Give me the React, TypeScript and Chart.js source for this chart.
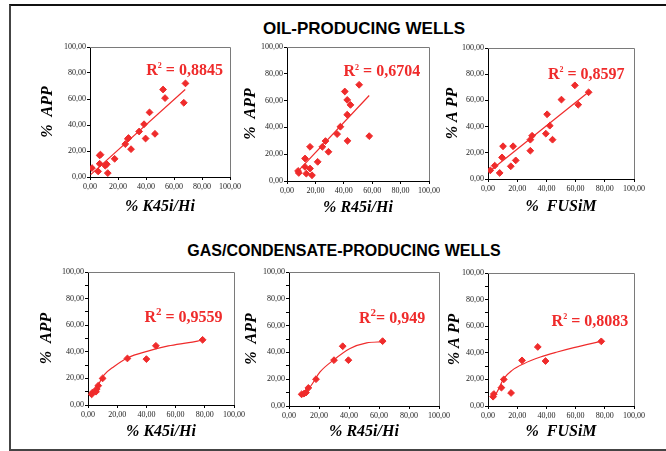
import React, { useEffect, useRef } from 'react';
import { Chart, registerables } from 'chart.js';

Chart.register(...registerables);

// ---------- DATA ----------
const xTickValues = [0, 20, 40, 60, 80, 100];

// Oil-producing wells
const oilK45iX = [1.4, 5.8, 6.9, 6.9, 7.5, 10.9, 12, 12.7, 17.6, 25.2, 27, 27.5, 29.3, 35.1, 38.6, 39.7, 42.5, 46.4, 52.2, 53.6, 67, 68.2];
const oilK45iY = [6.9, 4.3, 10.2, 16.6, 17.2, 8.7, 9.8, 3, 14, 25.3, 29.3, 30, 21.4, 35, 40.6, 29.6, 49.7, 33.2, 67.3, 60.7, 57.1, 72];
const oilK45iTrendX = [0.5, 68];
const oilK45iTrendY = [1.8, 67.3];

const oilR45iX = [7.8, 8.3, 12.7, 12.7, 13.6, 16.2, 16.2, 17.6, 21.6, 24.9, 27.1, 29.2, 35.3, 37.6, 40.7, 42.4, 42.4, 42.6, 44.7, 50.8, 57.9];
const oilR45iY = [7.5, 6, 16.8, 10.5, 5.5, 25.5, 9.3, 4.3, 14.3, 25.5, 29.8, 21.8, 35, 40.5, 66.8, 60.5, 49.5, 30, 56.8, 71.8, 33.5];
const oilR45iTrendX = [6.6, 57.9];
const oilR45iTrendY = [6, 63.8];

const oilFusimX = [1.6, 4.6, 8, 9.6, 10.3, 15.6, 17.2, 19, 29, 29, 30.2, 39.6, 40.5, 42.3, 44.2, 50.3, 59.5, 61.8, 68.9];
const oilFusimY = [6.6, 10.2, 4.6, 16.5, 25, 9.7, 25, 14.2, 21.6, 30, 33, 34.6, 49.4, 40.7, 30, 60.6, 71.5, 56.7, 66.2];
const oilFusimTrendX = [1.1, 68.9];
const oilFusimTrendY = [5.9, 66.4];

// Gas/condensate-producing wells
const gasK45iX = [2.5, 3.2, 5.5, 6, 7, 10, 27, 40, 46.5, 78.5];
const gasK45iY = [8, 9.5, 10, 12, 14.5, 20, 35, 34.5, 44.5, 49];
const gasK45iTrendX = [2.3, 6.3, 10.9, 17.9, 27, 41, 55, 69, 78];
const gasK45iTrendY = [6, 13.6, 22.4, 29, 35.4, 40.5, 44.4, 46.9, 48.7];

const gasR45iX = [8.4, 10, 11.3, 12.9, 18, 30, 35.8, 39.6, 62.4];
const gasR45iY = [8.7, 9.2, 10, 13.5, 20, 34.2, 44.6, 34.2, 48.4];
const gasR45iTrendX = [7.3, 14, 20.7, 29.6, 40.7, 51.8, 62.4];
const gasR45iTrendY = [8.5, 14.2, 25.4, 34.2, 42.9, 47.1, 47.9];

const gasFusimX = [3.5, 4, 9.2, 10.8, 15.8, 23.3, 34.1, 39.4, 77.6];
const gasFusimY = [7, 9, 13.8, 20, 9.8, 34.3, 44.4, 33.8, 48.6];
const gasFusimTrendX = [3.4, 6.2, 10.8, 16.5, 24.5, 35.9, 47.4, 58.8, 77.6];
const gasFusimTrendY = [5.5, 10.5, 20.6, 26.8, 31.8, 36.8, 40.6, 43.9, 48.6];

const xTitles = ['% K45i/Hi', '% R45i/Hi', '%  FUSiM', '% K45i/Hi', '% R45i/Hi', '%  FUSiM'];
const yTitles = ['%  APP', '%  APP', '% A PP', '%  APP', '%  APP', '% A PP'];
const r2Texts = [' = 0,8845', ' = 0,6704', ' = 0,8597', ' = 0,9559', '= 0,949', ' = 0,8083'];
const groupTitles = ['OIL-PRODUCING WELLS', 'GAS/CONDENSATE-PRODUCING WELLS'];

// ---------- STYLE / LAYOUT ----------
const RED = '#ef2b2b';
const SERIF = '"Liberation Serif", "Times New Roman", serif';
const SANS = '"Liberation Sans", Arial, sans-serif';
const Y_AXIS_W = 58;
const X_AXIS_H = 42;
const PAD_TOP = 10;
const PAD_RIGHT = 22;

type Area = { l: number; r: number; t: number; b: number };
type PlotDef = {
  px: number[]; py: number[]; tx: number[]; ty: number[];
  curved: boolean; idx: number; yStep: number;
  area: Area; yTitleOff: number; xTitleOff: number;
  r2At: [number, number]; supSize: number;
};

const plots: PlotDef[] = [
  { px: oilK45iX, py: oilK45iY, tx: oilK45iTrendX, ty: oilK45iTrendY, curved: false, idx: 0, yStep: 20,
    area: { l: 90, r: 230, t: 47, b: 177 }, yTitleOff: 42, xTitleOff: 30, r2At: [67.6, 82.9], supSize: 8 },
  { px: oilR45iX, py: oilR45iY, tx: oilR45iTrendX, ty: oilR45iTrendY, curved: false, idx: 1, yStep: 20,
    area: { l: 287, r: 429, t: 47, b: 181 }, yTitleOff: 36, xTitleOff: 27, r2At: [66.8, 82], supSize: 8 },
  { px: oilFusimX, py: oilFusimY, tx: oilFusimTrendX, ty: oilFusimTrendY, curved: false, idx: 2, yStep: 20,
    area: { l: 488, r: 634, t: 48, b: 179 }, yTitleOff: 35, xTitleOff: 28, r2At: [67.3, 80.4], supSize: 8 },
  { px: gasK45iX, py: gasK45iY, tx: gasK45iTrendX, ty: gasK45iTrendY, curved: true, idx: 3, yStep: 10,
    area: { l: 88, r: 234, t: 272, b: 405 }, yTitleOff: 41, xTitleOff: 27, r2At: [65.4, 66.3], supSize: 11 },
  { px: gasR45iX, py: gasR45iY, tx: gasR45iTrendX, ty: gasR45iTrendY, curved: true, idx: 4, yStep: 10,
    area: { l: 289, r: 439, t: 272, b: 406 }, yTitleOff: 37, xTitleOff: 26, r2At: [68.7, 65.8], supSize: 11 },
  { px: gasFusimX, py: gasFusimY, tx: gasFusimTrendX, ty: gasFusimTrendY, curved: true, idx: 5, yStep: 10,
    area: { l: 488, r: 634, t: 273, b: 406 }, yTitleOff: 33, xTitleOff: 26, r2At: [69.8, 64.4], supSize: 8 },
];

const fmt = (v: number) => Number(v).toFixed(2).replace('.', ',');

const framePlugin = {
  id: 'frameR2',
  beforeDatasetsDraw(chart: any) {
    const { ctx, chartArea: a } = chart;
    ctx.save();
    ctx.strokeStyle = '#7a7a7a';
    ctx.lineWidth = 1;
    ctx.beginPath();
    ctx.moveTo(a.left, Math.round(a.top) + 0.5);
    ctx.lineTo(Math.round(a.right) + 0.5, Math.round(a.top) + 0.5);
    ctx.lineTo(Math.round(a.right) + 0.5, a.bottom);
    ctx.stroke();
    ctx.restore();
  },
  afterDatasetsDraw(chart: any, _args: any, opts: any) {
    const { ctx } = chart;
    const xs = chart.scales.x;
    const ys = chart.scales.y;
    const cx = xs.getPixelForValue(opts.x);
    const cy = ys.getPixelForValue(opts.y);
    const size = 16;
    ctx.save();
    ctx.fillStyle = RED;
    ctx.textBaseline = 'alphabetic';
    ctx.textAlign = 'left';
    ctx.font = `bold ${size}px ${SERIF}`;
    const wR = ctx.measureText('R').width;
    const wRest = ctx.measureText(opts.text).width;
    ctx.font = `bold ${opts.supSize}px ${SERIF}`;
    const wS = ctx.measureText('2').width;
    const total = wR + wS + wRest;
    const x0 = cx - total / 2;
    const base = cy + size * 0.33;
    ctx.font = `bold ${size}px ${SERIF}`;
    ctx.fillText('R', x0, base);
    ctx.font = `bold ${opts.supSize}px ${SERIF}`;
    ctx.fillText('2', x0 + wR, base - size * 0.42);
    ctx.font = `bold ${size}px ${SERIF}`;
    ctx.fillText(opts.text, x0 + wR + wS, base);
    ctx.restore();
  },
};

function Plot({ def }: { def: PlotDef }) {
  const ref = useRef<HTMLCanvasElement | null>(null);
  const left = def.area.l - Y_AXIS_W;
  const top = def.area.t - PAD_TOP;
  const width = def.area.r + PAD_RIGHT - left;
  const height = def.area.b + X_AXIS_H - top;

  useEffect(() => {
    if (!ref.current) return;
    const titleFont = { family: SERIF, size: 16, weight: 'bold' as const, style: 'italic' as const };
    const tickFont = { family: SERIF, size: 8 };
    const chart = new Chart(ref.current, {
      type: 'scatter',
      data: {
        datasets: [
          {
            type: 'scatter',
            data: def.px.map((x, i) => ({ x, y: def.py[i] })),
            pointStyle: 'rectRot',
            pointRadius: 3.4,
            backgroundColor: RED,
            borderColor: RED,
            borderWidth: 1,
          } as any,
          {
            type: 'line',
            data: def.tx.map((x, i) => ({ x, y: def.ty[i] })),
            borderColor: RED,
            borderWidth: 1.2,
            pointRadius: 0,
            fill: false,
            tension: def.curved ? 0.4 : 0,
            cubicInterpolationMode: def.curved ? 'monotone' : 'default',
          } as any,
        ],
      },
      options: {
        responsive: false,
        animation: false,
        events: [],
        layout: { padding: { top: PAD_TOP, right: PAD_RIGHT, left: 0, bottom: 0 } },
        plugins: {
          legend: { display: false },
          tooltip: { enabled: false },
          frameR2: { x: def.r2At[0], y: def.r2At[1], text: r2Texts[def.idx], supSize: def.supSize },
        } as any,
        scales: {
          x: {
            type: 'linear',
            min: xTickValues[0],
            max: xTickValues[xTickValues.length - 1],
            ticks: {
              stepSize: 20,
              callback: (v: any) => fmt(v),
              maxRotation: 0,
              minRotation: 0,
              autoSkip: false,
              font: tickFont,
              color: '#222',
              padding: 2,
            },
            grid: { drawOnChartArea: false, drawTicks: true, tickLength: 3, color: '#000' },
            border: { display: true, color: '#000', width: 1 },
            title: {
              display: true,
              text: xTitles[def.idx],
              font: titleFont,
              color: '#000',
              padding: { top: 0, bottom: 32.4 - def.xTitleOff },
            },
            afterFit: (s: any) => { s.height = X_AXIS_H; },
          },
          y: {
            type: 'linear',
            min: 0,
            max: 100,
            ticks: {
              stepSize: def.yStep,
              callback: (v: any) => (Number(v) % 20 === 0 ? fmt(v) : ''),
              font: tickFont,
              color: '#222',
              padding: 1,
            },
            grid: { drawOnChartArea: false, drawTicks: true, tickLength: 3, color: '#000' },
            border: { display: true, color: '#000', width: 1 },
            title: {
              display: true,
              text: yTitles[def.idx],
              font: titleFont,
              color: '#000',
              padding: { top: Y_AXIS_W - def.yTitleOff - 9.6, bottom: 0 },
            },
            afterFit: (s: any) => { s.width = Y_AXIS_W; },
          },
        } as any,
      },
      plugins: [framePlugin as any],
    });
    return () => chart.destroy();
  }, [def]);

  return (
    <canvas
      ref={ref}
      width={width}
      height={height}
      style={{ position: 'absolute', left, top, width, height }}
    />
  );
}

export default function App() {
  const titleStyle = (cx: number, cy: number, size: number): React.CSSProperties => ({
    position: 'absolute',
    left: cx,
    top: cy,
    transform: 'translate(-50%, -50%)',
    font: `bold ${size}px ${SANS}`,
    color: '#000',
    whiteSpace: 'nowrap',
    lineHeight: 1,
  });
  return (
    <div style={{ position: 'absolute', left: 0, top: 0, width: 666, height: 451, background: '#fff', overflow: 'hidden' }}>
      <div
        style={{
          position: 'absolute',
          left: 9,
          top: 4,
          width: 720,
          height: 443,
          borderTop: '2px solid #111',
          borderLeft: '2px solid #444',
          borderBottom: '2px solid #444',
        }}
      />
      <div style={titleStyle(364, 28, 17)}>{groupTitles[0]}</div>
      <div style={titleStyle(344, 251, 16)}>{groupTitles[1]}</div>
      {plots.map((p) => (
        <Plot key={p.idx} def={p} />
      ))}
    </div>
  );
}
